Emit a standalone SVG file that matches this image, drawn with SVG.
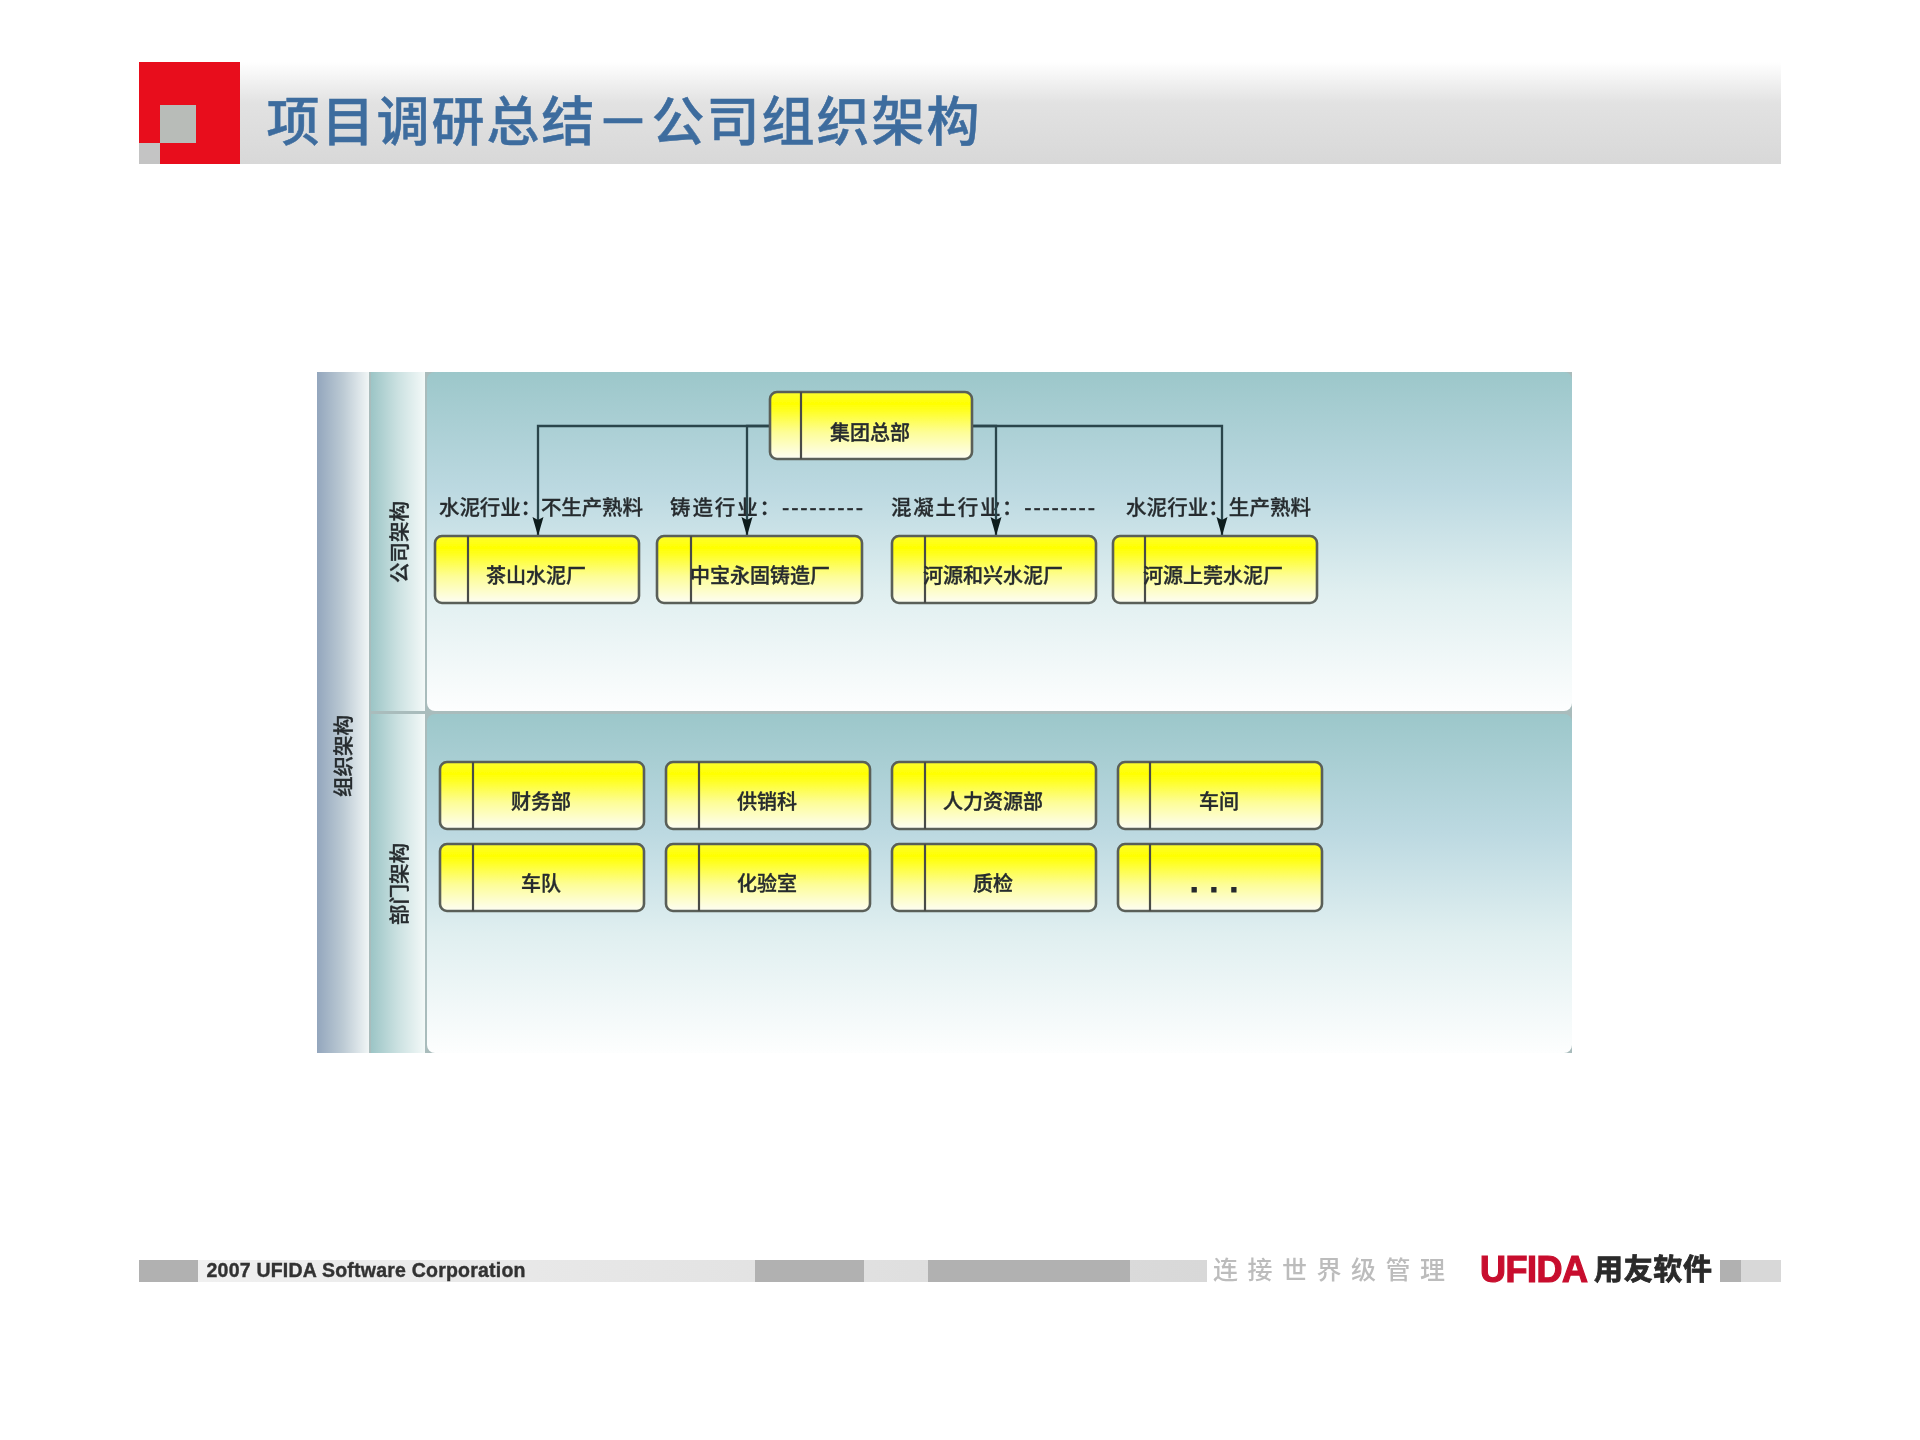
<svg xmlns="http://www.w3.org/2000/svg" width="1920" height="1440" viewBox="0 0 1920 1440">
<style>
text{font-family:"Noto Sans CJK SC","Liberation Sans",sans-serif;fill:#262c2e;text-anchor:middle;font-weight:500}
.n{font-size:20px;stroke:#262c2e;stroke-width:.35}
.l{font-size:20.500px;text-anchor:start;stroke:#262c2e;stroke-width:.3}
.r{font-size:20.500px;stroke:#262c2e;stroke-width:.35}
.box{fill:url(#nodeFill);stroke:#5a5f58;stroke-width:2.600}
.div{stroke:#484c47;stroke-width:2.200}
.conn{fill:none;stroke:#2a454b;stroke-width:2.300}
.dk{fill:#b1b1b1}
</style>
<defs>
<linearGradient id="headBar" x1="0" y1="0" x2="0" y2="1"><stop offset="0" stop-color="#fff"/><stop offset=".4" stop-color="#e2e2e2"/><stop offset="1" stop-color="#d8d8d8"/></linearGradient>
<linearGradient id="nodeFill" x1="0" y1="0" x2="0" y2="1"><stop offset="0" stop-color="#fdfd30"/><stop offset=".18" stop-color="#ffff00"/><stop offset=".6" stop-color="#fdfd96"/><stop offset="1" stop-color="#fdfdf4"/></linearGradient>
<linearGradient id="panelFill" x1="0" y1="0" x2="0" y2="1"><stop offset="0" stop-color="#9cc7ca"/><stop offset=".35" stop-color="#bcd9e1"/><stop offset=".65" stop-color="#e0eff0"/><stop offset="1" stop-color="#fdfefe"/></linearGradient>
<linearGradient id="col1" x1="0" y1="0" x2="1" y2="0"><stop offset="0" stop-color="#93a6bd"/><stop offset=".5" stop-color="#bccad4"/><stop offset="1" stop-color="#f1f6f6"/></linearGradient>
<linearGradient id="col2" x1="0" y1="0" x2="1" y2="0"><stop offset="0" stop-color="#9cc5c6"/><stop offset=".5" stop-color="#cbe1e1"/><stop offset="1" stop-color="#f3f9f8"/></linearGradient>
<linearGradient id="foot" x1="0" y1="0" x2="1" y2="0"><stop offset="0" stop-color="#f0f0f0"/><stop offset="1" stop-color="#d8d8d8"/></linearGradient>
<filter id="soft" x="-2%" y="-2%" width="104%" height="104%"><feGaussianBlur stdDeviation="0.7"/></filter>
<marker id="arrow" markerUnits="userSpaceOnUse" markerWidth="20" markerHeight="12" refX="19" refY="6" orient="auto" viewBox="0 0 20 12"><path d="M0 .5L19 6L0 11.500L3 6Z" fill="#0f1c1e"/></marker>
</defs>
<rect width="1920" height="1440" fill="#fff"/>
<g filter="url(#soft)">
<g id="header">
<rect x="240" y="62" width="1541" height="102" fill="url(#headBar)"/>
<rect x="139" y="62" width="101" height="102" fill="#e8081a"/>
<rect x="160" y="105" width="36" height="38" fill="#b8bcb8"/>
<rect x="139" y="143" width="21" height="21" fill="#c4c4c4"/>
<text x="624" y="141" style="font-size:53px;letter-spacing:2px;fill:#3d6c9e;stroke:#3d6c9e;stroke-width:.5">项目调研总结－公司组织架构</text>
</g>
<g id="swimlanes">
<rect x="317" y="372" width="1255" height="681" fill="#a9bcbc"/>
<rect x="317" y="372" width="52" height="681" fill="url(#col1)"/>
<rect x="371" y="372" width="54" height="339" fill="url(#col2)"/>
<rect x="371" y="714" width="54" height="339" fill="url(#col2)"/>
<rect x="427" y="372" width="1145" height="339" rx="8" fill="url(#panelFill)"/>
<rect x="427" y="714" width="1145" height="339" rx="8" fill="url(#panelFill)"/>
<text class="r" transform="translate(351 756) rotate(-90)">组织架构</text>
<text class="r" transform="translate(407 542) rotate(-90)">公司架构</text>
<text class="r" transform="translate(407 884) rotate(-90)">部门架构</text>
</g>
<g id="labels">
<text class="l" x="439" y="515" textLength="204">水泥行业：不生产熟料</text>
<text class="l" x="670" y="515" textLength="193">铸造行业：---------</text>
<text class="l" x="891" y="515" textLength="204">混凝土行业：--------</text>
<text class="l" x="1126" y="515" textLength="185">水泥行业：生产熟料</text>
</g>
<g id="connectors">
<path class="conn" marker-end="url(#arrow)" d="M770 426H538V536"/>
<path class="conn" marker-end="url(#arrow)" d="M770 426H747V536"/>
<path class="conn" marker-end="url(#arrow)" d="M972 426H996V536"/>
<path class="conn" marker-end="url(#arrow)" d="M972 426H1222V536"/>
</g>
<g id="node-hq"><rect class="box" x="770" y="392" width="202" height="67" rx="7"/><path class="div" d="M801 392V459"/><text class="n" x="870" y="440">集团总部</text></g>
<g id="node-a1"><rect class="box" x="435" y="536" width="204" height="67" rx="7"/><path class="div" d="M468 536V603"/><text class="n" x="536" y="583">茶山水泥厂</text></g>
<g id="node-a2"><rect class="box" x="657" y="536" width="205" height="67" rx="7"/><path class="div" d="M691 536V603"/><text class="n" x="760" y="583">中宝永固铸造厂</text></g>
<g id="node-a3"><rect class="box" x="892" y="536" width="204" height="67" rx="7"/><path class="div" d="M925 536V603"/><text class="n" x="993" y="583">河源和兴水泥厂</text></g>
<g id="node-a4"><rect class="box" x="1113" y="536" width="204" height="67" rx="7"/><path class="div" d="M1145 536V603"/><text class="n" x="1213" y="583">河源上莞水泥厂</text></g>
<g id="node-b1"><rect class="box" x="440" y="762" width="204" height="67" rx="7"/><path class="div" d="M473 762V829"/><text class="n" x="541" y="809">财务部</text></g>
<g id="node-b2"><rect class="box" x="666" y="762" width="204" height="67" rx="7"/><path class="div" d="M699 762V829"/><text class="n" x="767" y="809">供销科</text></g>
<g id="node-b3"><rect class="box" x="892" y="762" width="204" height="67" rx="7"/><path class="div" d="M925 762V829"/><text class="n" x="993" y="809">人力资源部</text></g>
<g id="node-b4"><rect class="box" x="1118" y="762" width="204" height="67" rx="7"/><path class="div" d="M1150 762V829"/><text class="n" x="1219" y="809">车间</text></g>
<g id="node-c1"><rect class="box" x="440" y="844" width="204" height="67" rx="7"/><path class="div" d="M473 844V911"/><text class="n" x="541" y="891">车队</text></g>
<g id="node-c2"><rect class="box" x="666" y="844" width="204" height="67" rx="7"/><path class="div" d="M699 844V911"/><text class="n" x="767" y="891">化验室</text></g>
<g id="node-c3"><rect class="box" x="892" y="844" width="204" height="67" rx="7"/><path class="div" d="M925 844V911"/><text class="n" x="993" y="891">质检</text></g>
<g id="node-c4"><rect class="box" x="1118" y="844" width="204" height="67" rx="7"/><path class="div" d="M1150 844V911"/><text x="1214" y="892" textLength="48" style="font-size:30px;font-weight:700;font-family:'Liberation Sans',sans-serif;stroke:#262c2e;stroke-width:1">. . .</text></g>
<g id="footer">
<rect x="198" y="1260" width="1009" height="22" fill="url(#foot)"/>
<rect class="dk" x="139" y="1260" width="59" height="22"/>
<rect class="dk" x="755" y="1260" width="109" height="22"/>
<rect class="dk" x="928" y="1260" width="202" height="22"/>
<rect class="dk" x="1720" y="1260" width="21" height="22"/>
<rect x="1741" y="1260" width="40" height="22" fill="#d8d8d8"/>
<text x="366" y="1277" textLength="319" style="font-family:'Liberation Sans',sans-serif;font-size:19.500px;font-weight:700;fill:#333;stroke:#333;stroke-width:.4">2007 UFIDA Software Corporation</text>
<rect x="1207" y="1252" width="510" height="36" fill="#fff"/>
<text x="1329" y="1279" textLength="232" style="font-size:25px;fill:#bcbcbc">连接世界级管理</text>
<text x="1534" y="1282" textLength="108" style="font-family:'Liberation Sans',sans-serif;font-size:36px;font-weight:700;fill:#c8102e;stroke:#c8102e;stroke-width:1.200">UFIDA</text>
<text x="1653" y="1280" textLength="118" style="font-size:29px;font-weight:700;fill:#2a2a2a;stroke:#2a2a2a;stroke-width:.8">用友软件</text>
</g>
</g>
</svg>
